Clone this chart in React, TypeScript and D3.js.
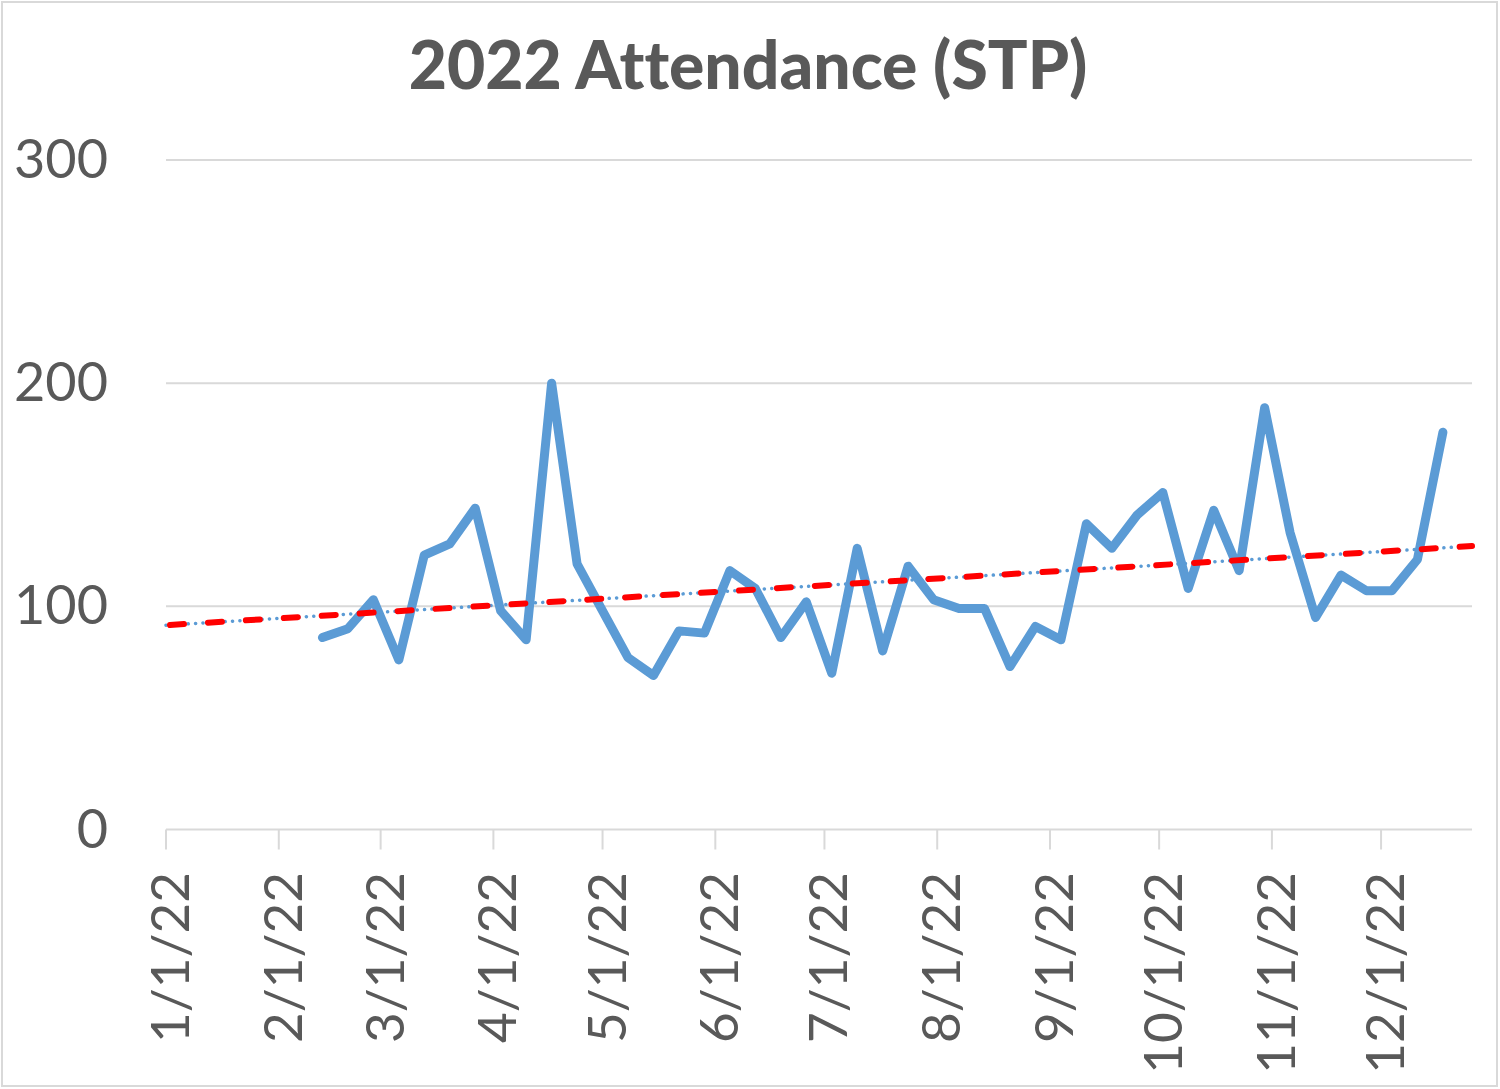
import * as React from 'react';
import * as d3 from 'd3';

// weekly attendance, Sundays
const weekDates = [
  '2022-02-13', '2022-02-20', '2022-02-27', '2022-03-06', '2022-03-13', '2022-03-20', '2022-03-27',
  '2022-04-03', '2022-04-10', '2022-04-17', '2022-04-24', '2022-05-01', '2022-05-08', '2022-05-15',
  '2022-05-22', '2022-05-29', '2022-06-05', '2022-06-12', '2022-06-19', '2022-06-26', '2022-07-03',
  '2022-07-10', '2022-07-17', '2022-07-24', '2022-07-31', '2022-08-07', '2022-08-14', '2022-08-21',
  '2022-08-28', '2022-09-04', '2022-09-11', '2022-09-18', '2022-09-25', '2022-10-02', '2022-10-09',
  '2022-10-16', '2022-10-23', '2022-10-30', '2022-11-06', '2022-11-13', '2022-11-20', '2022-11-27',
  '2022-12-04', '2022-12-11', '2022-12-18',
];
const attendance = [
  86, 90, 103, 76, 123, 128, 144,
  98, 85, 200, 119, 98, 77, 69,
  89, 88, 116, 108, 86, 102, 70,
  126, 80, 118, 103, 99, 99, 73,
  91, 85, 137, 126, 141, 151, 108,
  143, 116, 189, 133, 95, 114, 107,
  107, 121, 178,
];
const monthTicks = [
  '2022-01-01', '2022-02-01', '2022-03-01', '2022-04-01', '2022-05-01', '2022-06-01',
  '2022-07-01', '2022-08-01', '2022-09-01', '2022-10-01', '2022-11-01', '2022-12-01',
];
const axisRange = ['2022-01-01', '2022-12-26'];
const yTicks = [0, 100, 200, 300];
const title = '2022 Attendance (STP)';

const width = 1500, height = 1089;
const plotLeft = 166, plotRight = 1472, plotTop = 160, plotBottom = 829.5;
const grey = '#d9d9d9', textColor = '#595959';
const font = 'Lato, "Open Sans", sans-serif';

const parse = d3.utcParse('%Y-%m-%d');
const fmt = d3.utcFormat('%-m/%-d/%y');

export default function App() {
  const dates = weekDates.map(d => parse(d) as Date);
  const domain = axisRange.map(d => parse(d) as Date);

  const x = d3.scaleUtc().domain(domain).range([plotLeft, plotRight]);
  const y = d3.scaleLinear().domain([0, 300]).range([plotBottom, plotTop]);

  const points: [Date, number][] = dates.map((d, i) => [d, attendance[i]]);
  const line = d3.line<[Date, number]>()
    .x(d => x(d[0]))
    .y(d => y(d[1]));

  // linear trend (least squares over date)
  const xs = dates.map(d => +d);
  const mx = d3.mean(xs) || 0;
  const my = d3.mean(attendance) || 0;
  const slope = d3.sum(xs.map((v, i) => (v - mx) * (attendance[i] - my))) /
    d3.sum(xs.map(v => (v - mx) * (v - mx)));
  const trend: [Date, number][] = domain.map(d => [d, my + slope * (+d - mx)]);

  return (
    <>
      <style>{'body{margin:0}'}</style>
      <svg width={width} height={height} style={{ display: 'block', background: '#fff' }}>
        <rect x={2} y={2} width={width - 5} height={height - 5} fill="#fff" stroke={grey} strokeWidth={2} />

        <text x={748} y={89} textAnchor="middle" fontFamily={font} fontWeight={900}
          fontSize={66} fill={textColor} style={{ fontVariantLigatures: 'none' }}>{title}</text>

        {yTicks.filter(t => t > 0).map(t => (
          <line key={'g' + t} x1={plotLeft} x2={plotRight} y1={y(t)} y2={y(t)} stroke={grey} strokeWidth={2} />
        ))}
        <line x1={plotLeft} x2={plotRight} y1={y(0)} y2={y(0)} stroke={grey} strokeWidth={2} />
        {monthTicks.map(t => {
          const px = x(parse(t) as Date);
          return <line key={'t' + t} x1={px} x2={px} y1={y(0)} y2={y(0) + 20} stroke={grey} strokeWidth={2} />;
        })}

        {yTicks.map(t => (
          <text key={'y' + t} x={108} y={y(t) + 18} textAnchor="end" fontFamily={font}
            fontSize={54} fill={textColor}>{t}</text>
        ))}

        {monthTicks.map(t => {
          const d = parse(t) as Date;
          return (
            <text key={'x' + t} transform={`translate(${x(d) + 23},872) rotate(-90)`} textAnchor="end"
              fontFamily={font} fontSize={53} fill={textColor}>{fmt(d)}</text>
          );
        })}

        <path d={line(points) || ''} fill="none" stroke="#5b9bd5" strokeWidth={9}
          strokeLinejoin="round" strokeLinecap="round" />

        <path d={line(trend) || ''} fill="none" stroke="#5b9bd5" strokeWidth={3.5}
          strokeDasharray="0.1 7.3" strokeLinecap="round" />
        <path d={line(trend) || ''} fill="none" stroke="#ff0000" strokeWidth={6}
          strokeDasharray="14 24" strokeDashoffset={-4} strokeLinecap="round" />
      </svg>
    </>
  );
}
